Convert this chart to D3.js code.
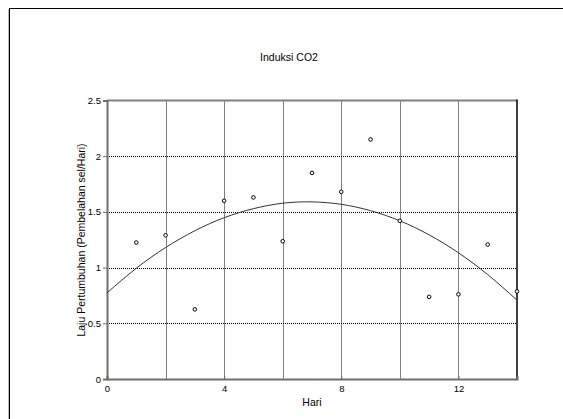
<!DOCTYPE html>
<html>
<head>
<meta charset="utf-8">
<script src="https://cdn.jsdelivr.net/npm/d3@7"></script>
<style>
  body { margin: 0; background: #fff; }
  text { font-family: Arial, "Liberation Sans", sans-serif; fill: #000; }
</style>
</head>
<body>
<div id="chart"></div>
<script>
const width = 563;
const height = 419;

const hari = [1, 2, 3, 4, 5, 6, 7, 8, 9, 10, 11, 12, 13, 14];
const laju = [1.225, 1.29, 0.625, 1.60, 1.63, 1.237, 1.85, 1.68, 2.15, 1.42, 0.737, 0.76, 1.207, 0.786];

// fitted curve
const fitX = [0, 1, 2, 3, 4, 5, 6, 7, 8, 9, 10, 11, 12, 13, 14];
const fitY = [0.773, 0.994, 1.180, 1.331, 1.448, 1.529, 1.578, 1.590, 1.568, 1.511, 1.420, 1.294, 1.133, 0.937, 0.708];

const xTicks = [0, 4, 8, 12];
const xGrid = [2, 4, 6, 8, 10, 12];
const yTicks = [0, 0.5, 1, 1.5, 2, 2.5];

const plot = {left: 107, right: 517, top: 100.5, bottom: 379};

const svg = d3.select("#chart")
    .append("svg")
    .attr("width", width)
    .attr("height", height);

// outer frame
svg.append("rect")
    .attr("x", 9.5)
    .attr("y", 8.5)
    .attr("width", width)
    .attr("height", height)
    .attr("fill", "none")
    .attr("stroke", "#000")
    .attr("stroke-width", 1);
svg.append("line")
    .attr("x1", 8.5).attr("x2", 8.5)
    .attr("y1", 9).attr("y2", height)
    .attr("stroke", "#bbb");

const x = d3.scaleLinear().domain([0, 14]).range([plot.left, plot.right]);
const y = d3.scaleLinear().domain([0, 2.5]).range([plot.bottom, plot.top]);

// grid
svg.append("g")
    .selectAll("line")
    .data(xGrid)
    .enter()
    .append("line")
    .attr("x1", d => Math.round(x(d)) + 0.5)
    .attr("x2", d => Math.round(x(d)) + 0.5)
    .attr("y1", plot.top)
    .attr("y2", plot.bottom)
    .attr("stroke", "#000")
    .attr("stroke-dasharray", "1,1");

svg.append("g")
    .selectAll("line")
    .data(yTicks.slice(1, -1))
    .enter()
    .append("line")
    .attr("x1", plot.left)
    .attr("x2", plot.right)
    .attr("y1", d => Math.round(y(d)) + 0.5)
    .attr("y2", d => Math.round(y(d)) + 0.5)
    .attr("stroke", "#000")
    .attr("stroke-dasharray", "1,1");

// plot frame
svg.append("line")
    .attr("x1", plot.left).attr("x2", plot.right)
    .attr("y1", plot.top).attr("y2", plot.top)
    .attr("stroke", "#808080").attr("stroke-width", 2);
svg.append("line")
    .attr("x1", plot.right).attr("x2", plot.right)
    .attr("y1", plot.top - 1).attr("y2", plot.bottom + 1)
    .attr("stroke", "#000").attr("stroke-width", 1.5);

// axes
const xAxis = svg.append("g")
    .attr("transform", `translate(0,${plot.bottom})`)
    .call(d3.axisBottom(x).tickValues(xTicks).tickSize(-3).tickPadding(6).tickFormat(d3.format("d")));
const yAxis = svg.append("g")
    .attr("transform", `translate(${plot.left},0)`)
    .call(d3.axisLeft(y).tickValues(yTicks).tickSize(4).tickPadding(2).tickFormat(d => d));

[xAxis, yAxis].forEach(a =>
{
    a.select(".domain").attr("stroke", "#6e6e6e").attr("stroke-width", 2);
    a.selectAll(".tick line").attr("stroke", "#6e6e6e");
    a.selectAll("text").style("font-size", "9.5px").attr("fill", "#000");
});

// fitted curve
const line = d3.line()
    .x(d => x(d[0]))
    .y(d => y(d[1]))
    .curve(d3.curveNatural);

svg.append("path")
    .datum(fitX.map((d, i) => [d, fitY[i]]))
    .attr("d", line)
    .attr("fill", "none")
    .attr("stroke", "#333")
    .attr("stroke-width", 1);

// observations
svg.append("g")
    .selectAll("circle")
    .data(hari)
    .enter()
    .append("circle")
    .attr("cx", d => x(d))
    .attr("cy", (d, i) => y(laju[i]))
    .attr("r", 1.8)
    .attr("fill", "#fff")
    .attr("stroke", "#000")
    .attr("stroke-width", 1);

// labels
svg.append("text")
    .text("Induksi CO2")
    .attr("x", 289)
    .attr("y", 61)
    .attr("text-anchor", "middle")
    .style("font-size", "10.5px");

svg.append("text")
    .text("Hari")
    .attr("x", (plot.left + plot.right) / 2)
    .attr("y", 406)
    .attr("text-anchor", "middle")
    .style("font-size", "10.5px");

svg.append("text")
    .text("Laju Pertumbuhan (Pembelahan sel/Hari)")
    .attr("transform", "translate(85,240) rotate(-90)")
    .attr("text-anchor", "middle")
    .style("font-size", "10.5px");
</script>
</body>
</html>
